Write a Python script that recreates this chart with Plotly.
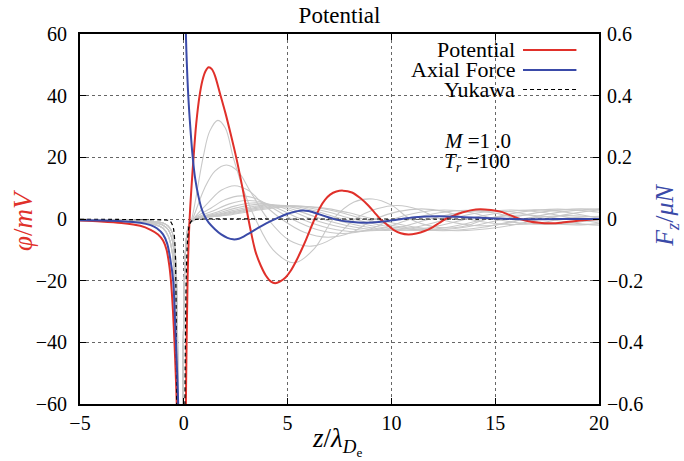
import plotly.graph_objects as go

# ---------------- data (z in units of lambda_De) ----------------
# Potential phi (mV), red; None splits the branches either side of the grain
pot_z = [-5, -4, -3, -2.1, -1.6, -1.24, -1.0, -0.83, -0.7, -0.62, -0.52, -0.45, -0.39, -0.34, -0.3, None,
         0.05, 0.1, 0.18, 0.28, 0.47, 0.6, 0.76, 0.9, 1.05, 1.2, 1.35, 1.5, 1.74, 2.0, 2.25, 2.54, 2.8,
         3.0, 3.2, 3.45, 3.7, 3.95, 4.2, 4.4, 4.65, 4.9, 5.15, 5.4, 5.65, 5.9, 6.1, 6.3, 6.55, 6.8, 7.05,
         7.35, 7.66, 8.1, 8.5, 8.9, 9.2, 9.46, 9.8, 10.1, 10.45, 10.82, 11.2, 11.6, 12.0, 12.3, 12.6,
         13.0, 13.4, 13.8, 14.28, 14.8, 15.3, 15.8, 16.2, 16.6, 17.1, 17.65, 18.2, 18.8, 19.4, 20.0]
pot_phi = [-0.5, -0.8, -1.3, -2.2, -3.5, -5, -7, -10, -15, -20, -30, -40, -50, -60, -75, None,
           -90, -60, -20, 0, 20, 31, 40, 45, 48, 49.2, 48.6, 46.5, 40.8, 34.5, 27.8, 19.5, 11,
           4, -3, -10.5, -15, -18.3, -20.3, -20.8, -20.2, -19, -16.8, -13.8, -10.3, -6.5, -3.2, 0, 3.6, 6.2, 7.9,
           8.9, 9.2, 8.6, 6.8, 4.3, 2.0, 0, -1.9, -3.5, -4.6, -5.0, -4.7, -3.9, -2.6, -1.3, 0,
           1.1, 2.1, 2.8, 3.2, 2.9, 2.3, 1.0, 0, -0.7, -1.2, -1.4, -1.2, -0.7, -0.3, 0]

# Axial force F_z (uN), blue, right axis
force_z = [-5, -4, -3, -2.1, -1.6, -1.3, -1.0, -0.8, -0.65, -0.51, -0.44, -0.38, -0.32, -0.27, -0.22, None,
           0.0, 0.1, 0.2, 0.29, 0.43, 0.55, 0.7, 0.85, 1.0, 1.2, 1.5, 1.8, 2.1, 2.37, 2.65, 2.9, 3.17, 3.6,
           3.97, 4.5, 5.0, 5.3, 5.6, 6.0, 6.54, 7.0, 7.34, 8.0, 8.78, 9.4, 9.9, 10.5, 11.0, 11.7, 12.3,
           13.5, 15.0, 16.5, 18.0, 20.0]
force_f = [-0.004, -0.005, -0.007, -0.012, -0.02, -0.03, -0.05, -0.08, -0.13, -0.2, -0.3, -0.4, -0.5, -0.6, -0.8, None,
           1.0, 0.6, 0.42, 0.32, 0.2, 0.13, 0.075, 0.035, 0.01, -0.012, -0.033, -0.05, -0.061, -0.066, -0.064, -0.056, -0.046, -0.028,
           -0.014, 0.003, 0.017, 0.023, 0.027, 0.026, 0.015, 0.005, -0.002, -0.009, -0.012, -0.01, -0.006, 0.0, 0.005, 0.008, 0.009,
           0.006, 0.002, -0.001, 0.0, 0.0]

# Yukawa reference potential, black dashed
yuk_z = [-5, -2, -1, -0.7, -0.6, -0.5, -0.42, -0.38, -0.35, -0.32, None,
         0.03, 0.07, 0.12, 0.18, 0.25, 0.33, 0.45, 0.6, 1.0, 5, 10, 15, 20]
yuk_phi = [-0.1, -0.2, -0.3, -0.5, -1.2, -3, -9, -22, -50, -90, None,
           -90, -45, -18, -7, -2.5, -1, -0.3, -0.1, 0, 0, 0, 0, 0]

# Potential family for other Mach numbers (light grey)
grey_left_a_z = [-5, -3, -2, -1.5, -1.0, -0.75, -0.55, -0.45, -0.37, -0.3, None]
grey_left_a_phi = [-0.3, -0.6, -1.0, -1.6, -3, -5.5, -11, -20, -40, -80, None]
grey_left_b_z = [-5, -3, -2, -1.5, -1.0, -0.75, -0.55, -0.45, -0.37, -0.3, -0.25, None]
grey_left_b_phi = [-0.2, -0.4, -0.7, -1.1, -2, -3.5, -7, -13, -25, -50, -90, None]
grey_left_c_z = [-5, -3, -2, -1.5, -1.0, -0.75, -0.55, -0.4, -0.32, -0.26, -0.22, None]
grey_left_c_phi = [-0.1, -0.3, -0.5, -0.8, -1.3, -2.3, -4.5, -12, -30, -60, -90, None]
grey_start_z = [-0.08, -0.02, 0.05, 0.15, 0.28]
grey_start_phi = [-90, -40, -15, -5, -1.5]

g1_z = [0.38, 0.93, 1.25, 1.64, 2.0, 2.38, 2.9, 3.45, 4.3, 5.3, 6.3, 7.2, 8.2, 9.1, 10.0, 10.9, 11.9, 12.8, 13.7, 14.6, 15.5, 16.4, 17.3, 18.3, 19.2, 20.0]
g1_phi = [0, 20, 28.5, 32, 29.5, 20, 9, 0, -10, -14.2, -9.5, 0, 5.5, 6.5, 4.5, 0, -2.3, -2.9, -2, 0, 1.0, 1.3, 0.9, 0, -0.5, -0.6]
g2_z = [0.42, 1.0, 1.5, 2.05, 2.6, 3.2, 4.05, 5.1, 6.15, 7.2, 8.25, 9.3, 10.3, 11.3, 12.35, 13.4, 14.4, 15.4, 16.45, 17.5, 18.5, 19.5, 20.0]
g2_phi = [0, 10, 15.5, 17.5, 15.5, 9, 0, -7, -8.8, -6.2, 0, 3.3, 4.4, 3.1, 0, -1.6, -2.2, -1.6, 0, 0.8, 1.1, 0.8, 0.6]
g3_z = [0.45, 1.2, 1.8, 2.45, 3.1, 3.8, 4.7, 5.8, 6.95, 8.1, 9.2, 10.3, 11.45, 12.6, 13.7, 14.8, 15.95, 17.1, 18.2, 19.3, 20.0]
g3_phi = [0, 5.5, 9.3, 10.8, 9.3, 5, 0, -4.3, -5.9, -4.3, 0, 2.4, 3.3, 2.4, 0, -1.3, -1.8, -1.3, 0, 0.7, 0.9]
g4_z = [0.45, 1.3, 2.0, 2.75, 3.5, 4.3, 5.2, 6.4, 7.65, 8.9, 10.1, 11.3, 12.55, 13.8, 15.0, 16.2, 17.45, 18.7, 19.9]
g4_phi = [0, 3.5, 6.3, 7.5, 6.6, 3.5, 0, -3.4, -4.7, -3.4, 0, 2.1, 2.9, 2.1, 0, -1.3, -1.8, -1.3, 0]
g5_z = [0.5, 1.4, 2.2, 3.0, 3.8, 4.7, 5.65, 7.0, 8.3, 9.6, 10.95, 12.3, 13.6, 14.9, 16.25, 17.6, 18.9, 20.0]
g5_phi = [0, 2.6, 4.9, 6.0, 5.4, 2.9, 0, -3.0, -4.1, -3.0, 0, 2.0, 2.8, 2.0, 0, -1.4, -1.9, -1.5]
g6_z = [0.5, 1.5, 2.4, 3.3, 4.2, 5.2, 6.15, 7.6, 9.0, 10.4, 11.85, 13.3, 14.7, 16.1, 17.55, 19.0, 20.0]
g6_phi = [0, 2.0, 4.1, 5.2, 4.7, 2.6, 0, -2.7, -3.8, -2.7, 0, 2.0, 2.8, 2.0, 0, -1.5, -2.0]
g7_z = [0.55, 1.6, 2.6, 3.6, 4.6, 5.6, 6.65, 8.2, 9.7, 11.2, 12.75, 14.3, 15.8, 17.3, 18.85, 20.0]
g7_phi = [0, 1.8, 3.7, 4.8, 4.3, 2.4, 0, -2.6, -3.7, -2.6, 0, 2.1, 2.9, 2.1, 0, -1.3]
g8_z = [0.55, 1.7, 2.8, 3.9, 5.0, 6.1, 7.15, 8.8, 10.4, 12.0, 13.65, 15.3, 16.9, 18.5, 20.0]
g8_phi = [0, 1.6, 3.4, 4.5, 4.1, 2.3, 0, -2.6, -3.7, -2.6, 0, 2.1, 3.0, 2.1, 0.2]
g9_z = [0.6, 1.8, 3.0, 4.2, 5.4, 6.5, 7.65, 9.4, 11.1, 12.8, 14.55, 16.3, 18.0, 19.7, 20.0]
g9_phi = [0, 1.5, 3.2, 4.4, 4.0, 2.3, 0, -2.6, -3.7, -2.6, 0, 2.3, 3.2, 2.4, 2.2]
g10_z = [0.6, 1.9, 3.2, 4.5, 5.8, 7.0, 8.15, 10.0, 11.8, 13.6, 15.45, 17.3, 19.1, 20.0]
g10_phi = [0, 1.4, 3.1, 4.3, 3.9, 2.2, 0, -2.6, -3.7, -2.6, 0, 2.3, 3.3, 3.0]
g11_z = [0.65, 2.0, 3.4, 4.8, 6.2, 7.5, 8.65, 10.6, 12.5, 14.4, 16.35, 18.3, 20.0]
g11_phi = [0, 1.3, 3.0, 4.2, 3.8, 2.2, 0, -2.7, -3.8, -2.7, 0, 2.4, 3.3]
g12_z = [0.65, 2.1, 3.6, 5.1, 6.6, 7.9, 9.15, 11.2, 13.2, 15.2, 17.25, 19.3, 20.0]
g12_phi = [0, 1.2, 2.9, 4.1, 3.7, 2.1, 0, -2.7, -3.8, -2.7, 0, 2.4, 2.9]

grey_tails = [(g1_z, g1_phi), (g2_z, g2_phi), (g3_z, g3_phi), (g4_z, g4_phi),
              (g5_z, g5_phi), (g6_z, g6_phi), (g7_z, g7_phi), (g8_z, g8_phi),
              (g9_z, g9_phi), (g10_z, g10_phi), (g11_z, g11_phi), (g12_z, g12_phi)]
grey_lefts = [(grey_left_a_z, grey_left_a_phi), (grey_left_b_z, grey_left_b_phi),
              (grey_left_c_z, grey_left_c_phi)]

RED = "#e0302a"
BLUE = "#3a4aa8"
GREY = "#c8c8c8"
FONT = "Liberation Serif"

fig = go.Figure()

for i, (tz, tp) in enumerate(grey_tails):
    lz, lp = grey_lefts[i % 3]
    fig.add_trace(go.Scatter(
        x=lz + grey_start_z + tz, y=lp + grey_start_phi + tp,
        mode="lines", line=dict(color=GREY, width=1.1, shape="spline", smoothing=1.0),
        connectgaps=False, hoverinfo="skip"))

fig.add_trace(go.Scatter(x=pot_z, y=pot_phi, mode="lines", name="Potential",
                         line=dict(color=RED, width=2, shape="spline", smoothing=0.8),
                         connectgaps=False))
fig.add_trace(go.Scatter(x=yuk_z, y=yuk_phi, mode="lines", name="Yukawa",
                         line=dict(color="black", width=1.2, dash="4px,3px", shape="spline", smoothing=0.8),
                         connectgaps=False))
fig.add_trace(go.Scatter(x=force_z, y=force_f, mode="lines", name="Axial Force", yaxis="y2",
                         line=dict(color=BLUE, width=2, shape="spline", smoothing=0.8),
                         connectgaps=False))

axis_common = dict(ticks="inside", ticklen=6, tickwidth=1.2, tickcolor="black",
                   showline=True, linecolor="black", linewidth=2,
                   zeroline=False, tickfont=dict(family=FONT, size=20, color="black"))
grid_common = dict(showgrid=True, gridcolor="#666666", griddash="dot", gridwidth=1)

fig.update_layout(
    width=684, height=461,
    margin=dict(l=80, r=85, t=34, b=57),
    plot_bgcolor="white", paper_bgcolor="white",
    showlegend=False,
    font=dict(family=FONT, size=20, color="black"),
    title=dict(text="Potential", x=0.5, xref="paper", xanchor="center",
               y=1 - 15 / 461, yref="container", yanchor="middle",
               font=dict(family=FONT, size=23, color="black")),
    xaxis=dict(range=[-5, 20], tick0=0, dtick=5, mirror="ticks", ticklabelstandoff=0,
               **grid_common, **axis_common),
    yaxis=dict(range=[-60, 60], tick0=0, dtick=20, mirror="ticks", ticklabelstandoff=7,
               **grid_common, **axis_common),
    yaxis2=dict(range=[-0.6, 0.6], tick0=0, dtick=0.2, overlaying="y", side="right",
                showgrid=False, ticklabelstandoff=2, **axis_common),
)

# key box
fig.add_shape(type="rect", xref="paper", yref="paper", x0=0.588, x1=0.981, y0=0.824, y1=1.0,
              fillcolor="white", line=dict(width=0), layer="between")

key_rows = [("Potential", RED, "solid", 0.957, 2),
            ("Axial Force", BLUE, "solid", 0.903, 2),
            ("Yukawa", "black", "4px,3px", 0.850, 1.2)]
for label, col, dash, ky, w in key_rows:
    fig.add_shape(type="line", xref="paper", yref="paper", x0=0.8536, x1=0.9565, y0=ky, y1=ky,
                  line=dict(color=col, width=w, dash=dash), layer="above")
    fig.add_annotation(text=label, xref="paper", yref="paper", x=0.842, y=ky,
                       xanchor="right", yanchor="middle", showarrow=False,
                       font=dict(family=FONT, size=22, color="black"))

# parameters
fig.add_annotation(text="<i>M</i> =1 .0", xref="paper", yref="paper", x=0.698, y=0.71,
                   xanchor="left", yanchor="middle", showarrow=False,
                   font=dict(family=FONT, size=21, color="black"))
fig.add_annotation(text="<i>T</i><sub><i>r</i></sub> =100", xref="paper", yref="paper", x=0.698, y=0.655,
                   xanchor="left", yanchor="middle", showarrow=False,
                   font=dict(family=FONT, size=21, color="black"))

# axis titles
fig.add_annotation(text="<i>φ</i>/<i>mV</i>", xref="paper", yref="paper", x=-0.11, y=0.497,
                   xanchor="center", yanchor="middle", textangle=-90, showarrow=False,
                   font=dict(family=FONT, size=27, color=RED))
fig.add_annotation(text="<i>F</i><sub><i>z</i></sub>/<i>μN</i>", xref="paper", yref="paper", x=1.13, y=0.51,
                   xanchor="center", yanchor="middle", textangle=-90, showarrow=False,
                   font=dict(family=FONT, size=26, color=BLUE))
fig.add_annotation(text="<i>z</i>/<i>λ</i><sub><i>D</i><sub>e</sub></sub>", xref="paper", yref="paper",
                   x=0.495, y=-0.1, xanchor="center", yanchor="middle", showarrow=False,
                   font=dict(family=FONT, size=27, color="black"))

fig.write_html("out.html")
